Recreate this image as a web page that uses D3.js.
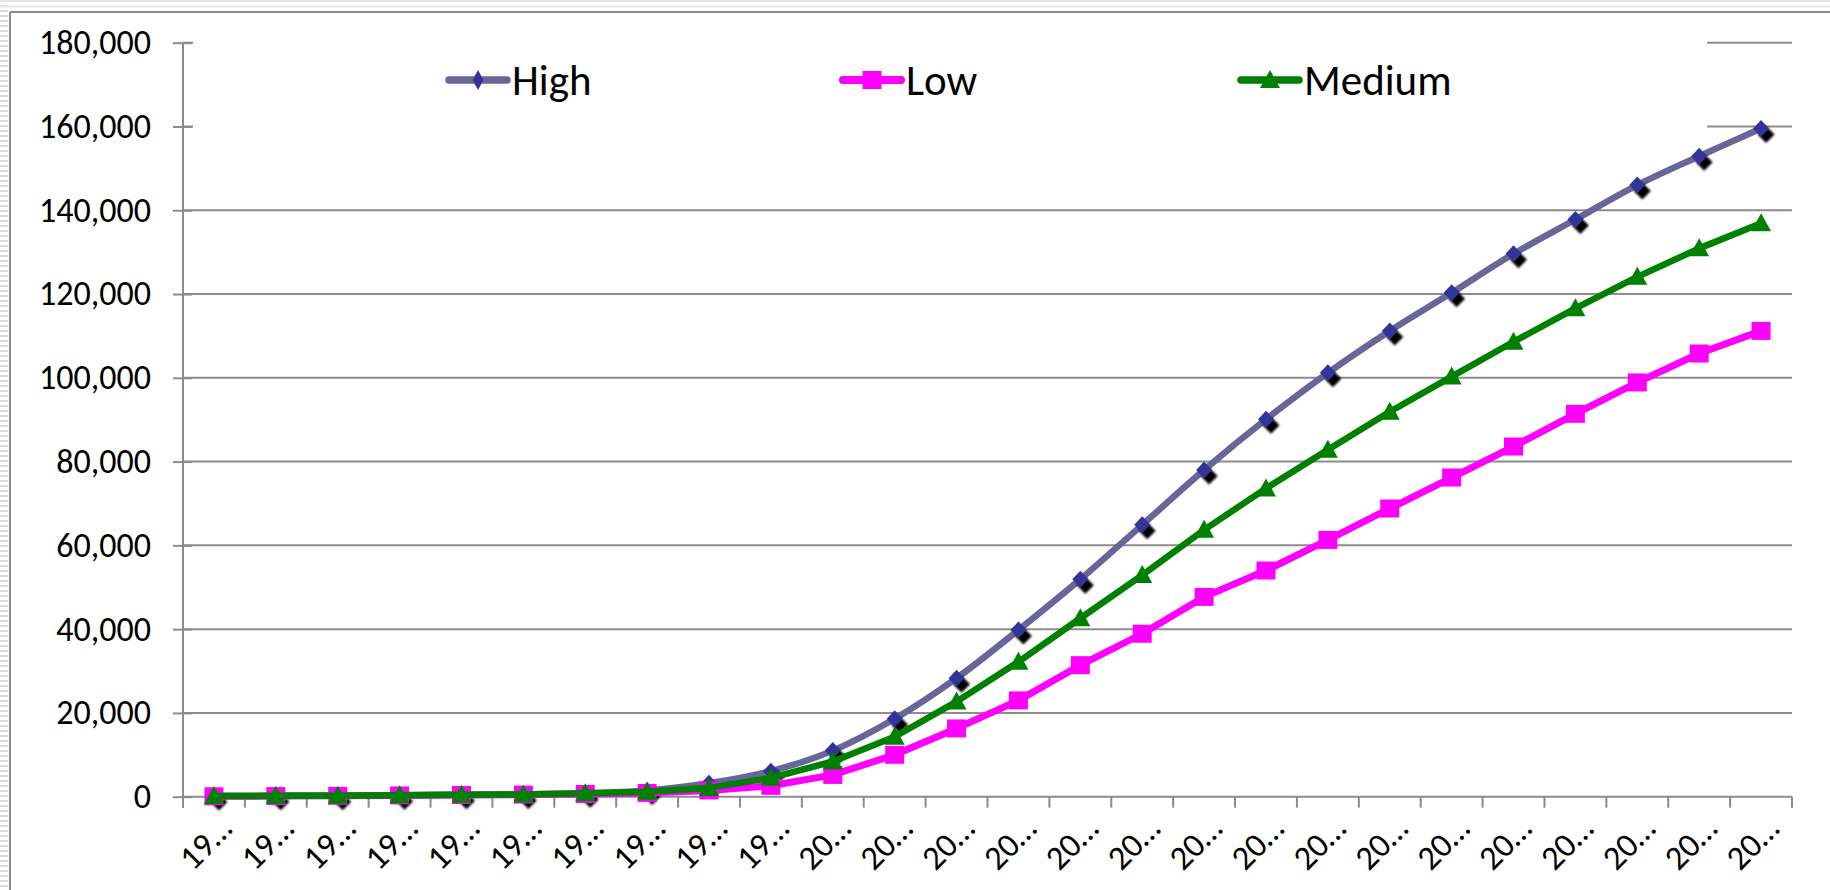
<!DOCTYPE html>
<html><head><meta charset="utf-8">
<script src="https://cdn.jsdelivr.net/npm/d3@7"></script>
<style>html,body{margin:0;padding:0;background:#fff;overflow:hidden}</style>
</head><body>
<svg id="chart" width="1830" height="890"></svg>
<script>
// ---- data ----
const years = [1950,1955,1960,1965,1970,1975,1980,1985,1990,1995,2000,2005,2010,2015,2020,2025,2030,2035,2040,2045,2050,2055,2060,2065,2070,2075];
const tickLabels = ["19…","19…","19…","19…","19…","19…","19…","19…","19…","19…","20…","20…","20…","20…","20…","20…","20…","20…","20…","20…","20…","20…","20…","20…","20…","20…"];
const seriesNames = ["High","Low","Medium"];
const highValues = [150,200,250,350,450,550,800,1500,3200,6100,11000,18600,28300,39800,51900,64900,78000,90100,101200,111200,120300,129600,137800,146000,152900,159500];
const lowValues = [100,150,200,300,400,500,650,900,1500,2600,5200,10000,16300,23000,31400,38900,47700,54000,61300,68800,76200,83600,91400,98900,105800,111200];
const mediumValues = [150,200,250,350,450,550,800,1200,2100,4500,8400,14300,22700,32200,42600,52900,63700,73600,82800,91900,100300,108600,116600,124100,130900,136900];
const yTicks = [0,20000,40000,60000,80000,100000,120000,140000,160000,180000];

(function(){
const svg = d3.select("#chart");
const FONT = "Carlito, Lato, sans-serif";
const pL = 183, pR = 1792, pT = 42.7, pB = 796.7;

// page decorations (frame)
const defs = svg.append("defs");
const pat = defs.append("pattern").attr("id","stripes").attr("width",10).attr("height",5).attr("patternUnits","userSpaceOnUse");
pat.append("rect").attr("width",10).attr("height",2).attr("fill","#dcdcdc");
svg.append("rect").attr("x",0).attr("y",0).attr("width",8).attr("height",890).attr("fill","url(#stripes)");
svg.append("line").attr("x1",0).attr("x2",1830).attr("y1",1).attr("y2",1).attr("stroke","#e4e4e4").attr("stroke-width",2);
svg.append("line").attr("x1",0).attr("x2",1830).attr("y1",6.5).attr("y2",6.5).attr("stroke","#e8e8e8").attr("stroke-width",2);
svg.append("line").attr("x1",10).attr("x2",1830).attr("y1",12).attr("y2",12).attr("stroke","#8a8a8a").attr("stroke-width",2);
svg.append("line").attr("x1",10).attr("x2",10).attr("y1",12).attr("y2",890).attr("stroke","#8a8a8a").attr("stroke-width",2);

const x = d3.scaleBand().domain(years).range([pL, pR]).paddingInner(0).paddingOuter(0);
const y = d3.scaleLinear().domain([0,180000]).range([pB, pT]);
const cx = d => x(d) + x.bandwidth()/2;

// gridlines
svg.append("g").selectAll("line").data(yTicks.filter(v=>v>0)).join("line")
  .attr("x1",pL).attr("x2",pR).attr("y1",d=>y(d)).attr("y2",d=>y(d))
  .attr("stroke","#8c8c8c").attr("stroke-width",2);

// legend box (white background covering plot top)
svg.append("rect").attr("x",193).attr("y",20).attr("width",1707-193).attr("height",130).attr("fill","#fff");

// y axis
const yAxis = d3.axisLeft(y).tickValues(yTicks).tickFormat(d3.format(",")).tickSize(10).tickPadding(12);
const ya = svg.append("g").attr("transform",`translate(${pL},0)`).call(yAxis);
ya.select(".domain").attr("stroke","#8c8c8c").attr("stroke-width",2).attr("d",`M0,${pT}V${pB+11}`);
ya.selectAll(".tick line").attr("stroke","#8c8c8c").attr("stroke-width",2).attr("x2",-10).attr("x1",9);
ya.selectAll(".tick text").attr("font-family",FONT).attr("font-size",34).attr("fill","#000").attr("x",-32);

// x axis
const xAxis = d3.axisBottom(x).tickValues([]).tickSize(0);
const xa = svg.append("g").attr("transform",`translate(0,${pB})`).call(xAxis);
xa.select(".domain").attr("stroke","#8c8c8c").attr("stroke-width",2).attr("d",`M${pL},0H${pR}`);
const edges = years.map(d=>x(d)).concat([pR]);
xa.selectAll("line.edge").data(edges).join("line").attr("class","edge")
  .attr("x1",d=>d).attr("x2",d=>d).attr("y1",0).attr("y2",11)
  .attr("stroke","#8c8c8c").attr("stroke-width",2);
xa.selectAll("text.lbl").data(years).join("text").attr("class","lbl")
  .attr("transform",(d)=>`translate(${cx(d)+20},${34}) rotate(-45)`)
  .attr("text-anchor","end").attr("font-family",FONT).attr("font-size",34).attr("fill","#000")
  .text((d,i)=>tickLabels[i]);

// markers
const diamond = "M0,-8.5L8,0L0,8.5L-8,0Z";
const square = "M-9.5,-9L9.5,-9L9.5,9L-9.5,9Z";
const triangle = "M0,-10L10,8L-10,8Z";
defs.append("filter").attr("id","blur").append("feGaussianBlur").attr("stdDeviation",1);

const series = [
  {name:seriesNames[0], values:highValues, line:"#666699", fill:"#333399", sym:diamond, shadow:true, curve:d3.curveCatmullRom.alpha(0.5), w:6.5},
  {name:seriesNames[1], values:lowValues, line:"#ff00ff", fill:"#ff00ff", sym:square, shadow:false, curve:d3.curveLinear, w:7},
  {name:seriesNames[2], values:mediumValues, line:"#008000", fill:"#008000", sym:triangle, shadow:false, curve:d3.curveLinear, w:6.5}
];

series.forEach(s=>{
  const g = svg.append("g");
  const line = d3.line().x((d,i)=>cx(years[i])).y(d=>y(d)).curve(s.curve);
  g.append("path").attr("d",line(s.values)).attr("fill","none").attr("stroke",s.line).attr("stroke-width",s.w).attr("stroke-linejoin","round");
  if (s.shadow) {
    g.selectAll("path.sh").data(s.values).join("path").attr("class","sh")
      .attr("d","M0,-8.5L8.5,0L0,8.5L-8.5,0Z").attr("fill","#000").attr("filter","url(#blur)")
      .attr("transform",(d,i)=>`translate(${cx(years[i])+5},${y(d)+6})`);
  }
  g.selectAll("path.mk").data(s.values).join("path").attr("class","mk")
    .attr("d",s.sym).attr("fill",s.fill)
    .attr("transform",(d,i)=>`translate(${cx(years[i])},${y(d)})`);
});

// legend
const legX = [449, 843, 1241];
const legY = 80;
series.forEach((s,i)=>{
  const g = svg.append("g").attr("transform",`translate(${legX[i]},${legY})`);
  g.append("line").attr("x1",0).attr("x2",58).attr("y1",0).attr("y2",0).attr("stroke",s.line).attr("stroke-width",s.w+1).attr("stroke-linecap","round");
  g.append("path").attr("d", i===0 ? "M0,-10L5.5,0L0,10L-5.5,0Z" : s.sym).attr("fill",s.fill).attr("transform","translate(29,0)");
  g.append("text").attr("x",63).attr("y",0).attr("dy","0.36em").attr("font-family",FONT).attr("font-size",43).attr("fill","#000").text(s.name);
});
})();
</script>
</body></html>
